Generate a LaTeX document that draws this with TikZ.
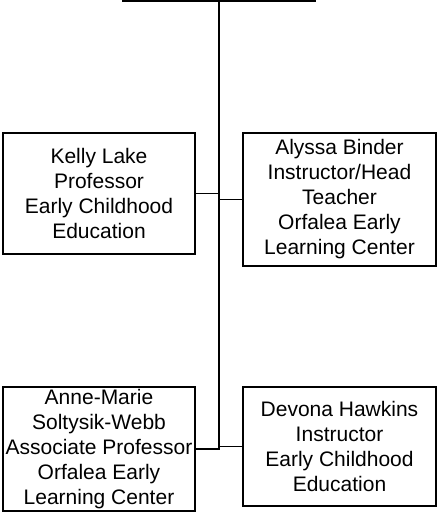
\documentclass[tikz,border=0pt]{standalone}
\usepackage{fontspec}
\setmainfont{Liberation Sans}
\begin{document}
\begin{tikzpicture}[x=1pt,y=-1pt,
  person/.style={draw,line width=1.8pt,inner sep=0pt,align=center,
    font=\fontsize{21}{25}\selectfont},
  link/.style={line width=1.8pt}]
\useasboundingbox (0,0) rectangle (437,522);
\node[person,minimum width=192pt,minimum height=121pt] (kl) at (99,193.5)
  {Kelly Lake\\Professor\\Early Childhood\\Education};
\node[person,minimum width=193pt,minimum height=133pt] (ab) at (339.5,199.5)
  {Alyssa Binder\\Instructor/Head\\Teacher\\Orfalea Early\\Learning Center};
\node[person,minimum width=192pt,minimum height=124pt] (am) at (99,449)
  {Anne-Marie\\Soltysik-Webb\\Associate Professor\\Orfalea Early\\Learning Center};
\node[person,minimum width=193pt,minimum height=119pt] (dh) at (339.5,446.5)
  {Devona Hawkins\\Instructor\\Early Childhood\\Education};
\coordinate (barl) at (122,1);
\coordinate (barr) at (316,1);
\coordinate (top) at (219,0);
\coordinate (bot) at (219,450);
\draw[link] (barl) -- (barr);
\draw[link] (top) -- (bot);
\draw[link] (kl.east) -- (kl.east -| top);
\draw[link] (ab.west) -- (ab.west -| top);
\draw[link] (am.east) -- (am.east -| top);
\draw[link] (dh.west) -- (dh.west -| top);
\end{tikzpicture}
\end{document}
